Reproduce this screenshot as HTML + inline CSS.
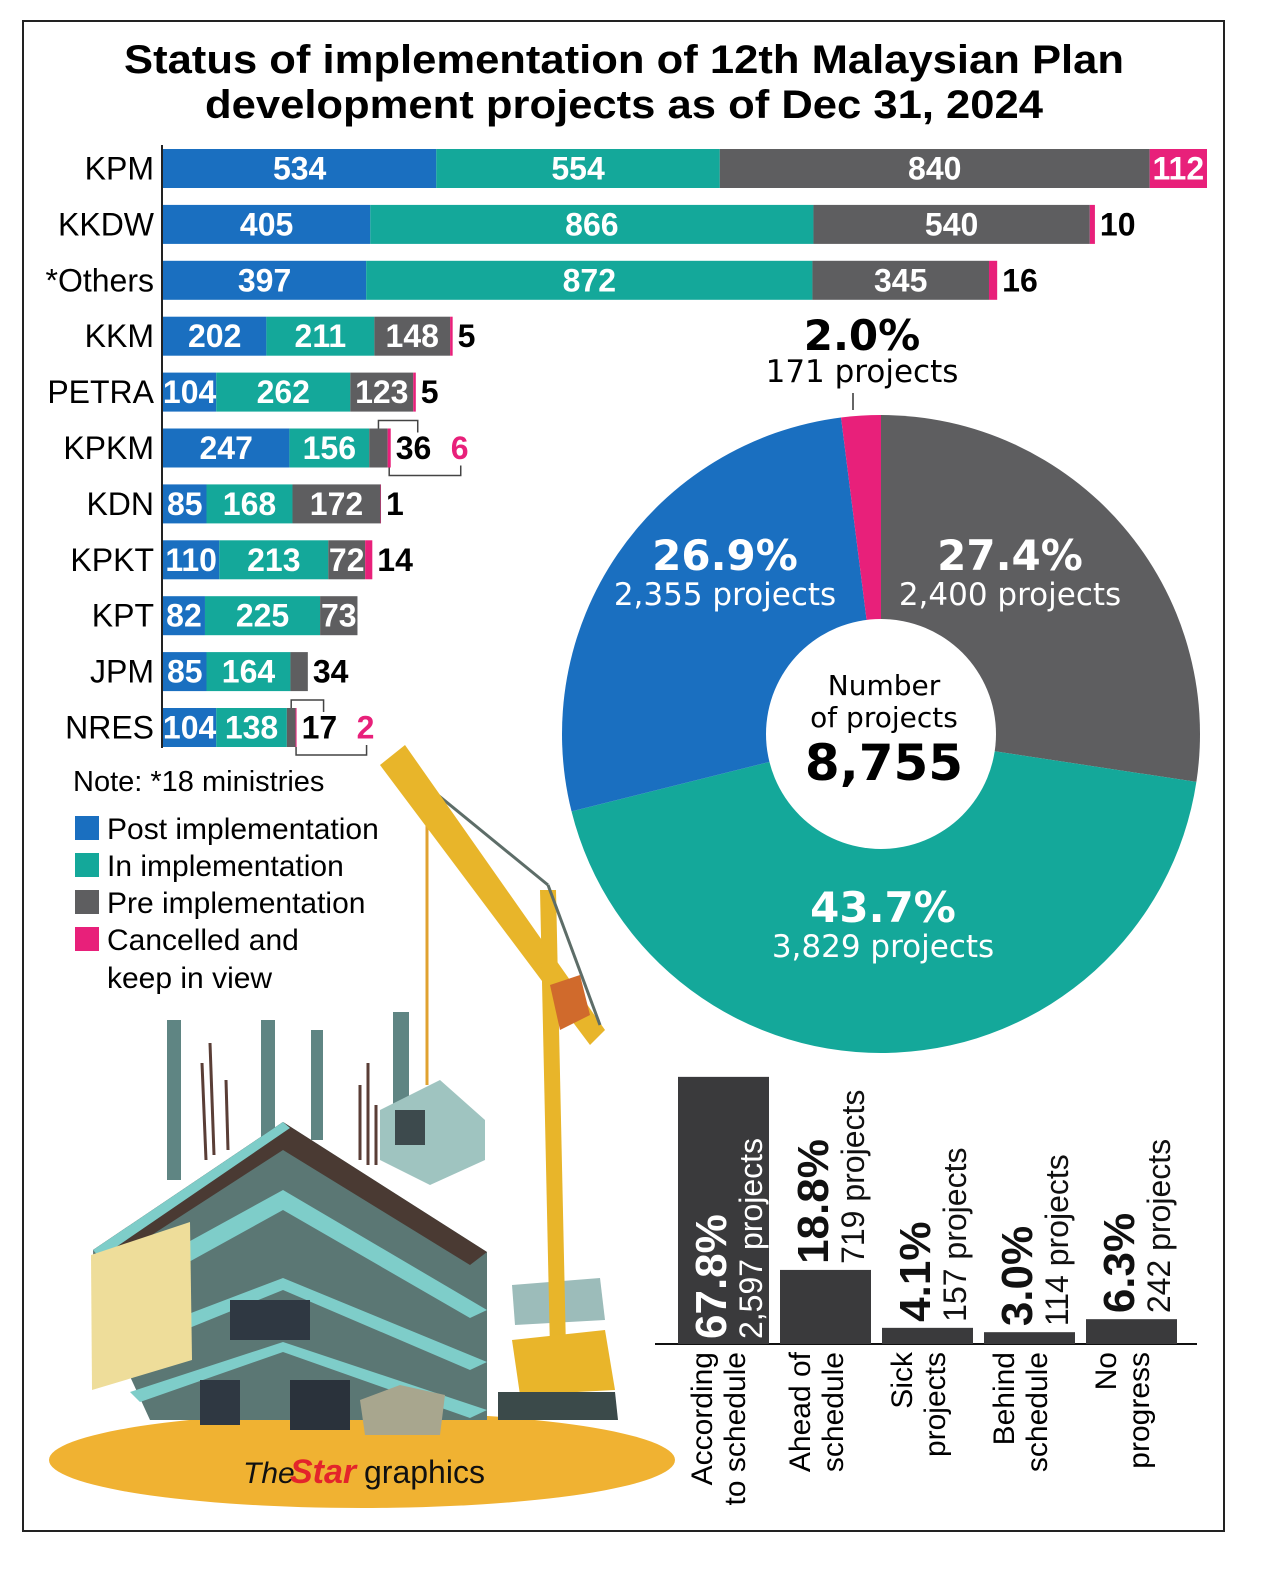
<!DOCTYPE html>
<html><head><meta charset="utf-8"><style>
html,body{margin:0;padding:0;background:#fff}
svg{display:block}
text{font-family:"Liberation Sans",sans-serif}
.pf{font-family:"DejaVu Sans","Liberation Sans",sans-serif}
</style></head><body>
<svg id="chart" width="1261" height="1579" viewBox="0 0 1261 1579" xmlns="http://www.w3.org/2000/svg">
<rect x="23" y="21" width="1201" height="1510" fill="#fff" stroke="#222" stroke-width="2"/>
<text x="624" y="73" text-anchor="middle" font-size="40" font-weight="bold" textLength="1000" lengthAdjust="spacingAndGlyphs">Status of implementation of 12th Malaysian Plan</text>
<text x="624" y="118" text-anchor="middle" font-size="40" font-weight="bold" textLength="838" lengthAdjust="spacingAndGlyphs">development projects as of Dec 31, 2024</text>

<g>
<ellipse cx="362" cy="1460" rx="313" ry="48" fill="#f0b232"/>
<g fill="#5f8583">
<rect x="167" y="1020" width="14" height="160"/><rect x="261" y="1020" width="14" height="120"/><rect x="311" y="1030" width="12" height="110"/><rect x="393" y="1012" width="16" height="110"/>
</g>
<g stroke="#5a3e36" stroke-width="3"><line x1="202" y1="1063" x2="206" y2="1160"/><line x1="210" y1="1043" x2="214" y2="1155"/><line x1="226" y1="1080" x2="228" y2="1150"/><line x1="360" y1="1085" x2="360" y2="1160"/><line x1="368" y1="1063" x2="368" y2="1165"/><line x1="376" y1="1105" x2="376" y2="1165"/></g>
<polygon points="93,1250 283,1122 487,1252 487,1420 150,1420 95,1300" fill="#5b7774"/>
<polygon points="93,1250 283,1122 487,1252 470,1265 283,1150 110,1262" fill="#4a3a33"/>
<polygon points="93,1250 283,1122 290,1128 100,1258" fill="#7ecdc9"/>
<polygon points="110,1285 283,1190 487,1310 470,1318 283,1210 120,1300" fill="#7ecdc9"/>
<polygon points="120,1340 283,1278 487,1362 470,1370 283,1290 130,1352" fill="#7ecdc9"/>
<polygon points="130,1392 283,1342 487,1410 470,1418 283,1352 140,1402" fill="#7ecdc9"/>
<rect x="230" y="1300" width="80" height="40" fill="#2f3842"/><rect x="290" y="1380" width="60" height="50" fill="#2a323b"/><rect x="200" y="1380" width="40" height="45" fill="#2f3842"/>
<polygon points="91,1255 190,1222 192,1360 92,1390" fill="#eedd9a"/>
<polygon points="380,1110 440,1080 485,1120 485,1160 430,1185 380,1160" fill="#9fc4c0"/>
<rect x="395" y="1110" width="30" height="35" fill="#3d4a4d"/>
<polygon points="360,1400 400,1385 445,1395 440,1435 365,1435" fill="#a8a68e"/>
<polygon points="512,1285 600,1278 605,1320 515,1325" fill="#9cbcba"/>
<line x1="395" y1="760" x2="548" y2="885" stroke="#5d6d68" stroke-width="3"/>
<line x1="427" y1="780" x2="427" y2="1085" stroke="#e0a230" stroke-width="3"/>
<polygon points="380,765 405,745 605,1030 590,1045" fill="#e8b52a"/>
<polygon points="540,890 556,890 566,1350 550,1350" fill="#e8b52a"/>
<line x1="548" y1="885" x2="600" y2="1025" stroke="#5d6d68" stroke-width="3"/>
<polygon points="550,985 580,975 590,1015 560,1030" fill="#d06a2c"/>
<polygon points="512,1340 605,1330 615,1390 520,1395" fill="#e9b52a"/>
<polygon points="498,1392 615,1392 618,1420 498,1420" fill="#3b4a4a"/>
</g>
<g>
<text x="243" y="1483" font-size="30" font-style="italic" font-family="Liberation Serif" fill="#111">The</text>
<text x="290" y="1483" font-size="34" font-style="italic" font-weight="bold" fill="#e3242b">Star</text>
<text x="364" y="1483" font-size="32" fill="#111">graphics</text>
</g>

<g id="bars"></g>
<g id="pie"></g>
<g id="sched"></g>

<g>
<text x="73" y="791" font-size="29">Note: *18 ministries</text>
<g><rect x="75" y="816" width="24" height="24" fill="#1a6fc0"/><text x="107" y="839" font-size="30">Post implementation</text></g>
<g><rect x="75" y="853" width="24" height="24" fill="#14a89a"/><text x="107" y="876" font-size="30">In implementation</text></g>
<g><rect x="75" y="890" width="24" height="24" fill="#5e5e60"/><text x="107" y="913" font-size="30">Pre implementation</text></g>
<g><rect x="75" y="927" width="24" height="24" fill="#e8207a"/><text x="107" y="950" font-size="30">Cancelled and</text><text x="107" y="988" font-size="30">keep in view</text></g>
</g>
</svg>
<script>
const NS='http://www.w3.org/2000/svg';
const ministries=['KPM','KKDW','*Others','KKM','PETRA','KPKM','KDN','KPKT','KPT','JPM','NRES'];
const postImpl=[534,405,397,202,104,247,85,110,82,85,104];
const inImpl=[554,866,872,211,262,156,168,213,225,164,138];
const preImpl=[840,540,345,148,123,36,172,72,73,34,17];
const cancelled=[112,10,16,5,5,6,1,14,0,0,2];
const pieLabels=['Pre implementation','In implementation','Post implementation','Cancelled'];
const piePct=[27.4,43.7,26.9,2.0];
const pieCounts=['2,400','3,829','2,355','171'];
const schedCats=[['According','to schedule'],['Ahead of','schedule'],['Sick','projects'],['Behind','schedule'],['No','progress']];
const schedPct=[67.8,18.8,4.1,3.0,6.3];
const schedCounts=['2,597','719','157','114','242'];
const COLORS=['#1a6fc0','#14a89a','#5e5e60','#e8207a'];
function mk(tag,attrs,parent){const e=document.createElementNS(NS,tag);for(const k in attrs)e.setAttribute(k,attrs[k]);parent.appendChild(e);return e;}
const bars=document.getElementById('bars');
const x0=162, sx=1044/2040, rowY=i=>149+i*55.9, bh=39, FIT=30;
const xs=v=>v*sx;
const axis=mk('line',{x1:x0,y1:145,x2:x0,y2:748,stroke:'#222','stroke-width':2},bars);

ministries.forEach((m,i)=>{
  const y=rowY(i);
  const lab=mk('text',{x:154,y:y+bh/2+11,'text-anchor':'end','font-size':32},bars);lab.textContent=m;
  
  const vals=[postImpl[i],inImpl[i],preImpl[i],cancelled[i]];
  let x=x0+1;
  vals.forEach((v,k)=>{
    const w=xs(v);
    if(v>0){
      const r=mk('rect',{x:x,y:y,width:w,height:bh,fill:COLORS[k]},bars);
      
    }
    if(w>=FIT){
      const t=mk('text',{x:x+w/2,y:y+bh/2+11,'text-anchor':'middle','font-size':32,'font-weight':'bold',fill:'#fff'},bars);t.textContent=v;
      
    }
    x+=w;
  });
  const end=x;
  const pre=preImpl[i], can=cancelled[i], preW=xs(pre);
  if(preW<FIT){
    const t=mk('text',{x:end+5,y:y+bh/2+11,'font-size':32,'font-weight':'bold'},bars);t.textContent=pre;
    
    if(can>0){
      const t2=mk('text',{x:end+5+42+13,y:y+bh/2+11,'font-size':32,'font-weight':'bold',fill:'#e8207a'},bars);t2.textContent=can;
      
      const px=end-xs(can)-preW/2, lx=end+5+22;
      const b1=mk('polyline',{points:`${px},${y} ${px},${y-8} ${lx},${y-8} ${lx},${y+4}`,fill:'none',stroke:'#444','stroke-width':1.5},bars);
      
      const cx2=end-xs(can)/2, rx=end+5+42+13+10;
      const b2=mk('polyline',{points:`${cx2},${y+bh} ${cx2},${y+bh+8} ${rx},${y+bh+8} ${rx},${y+bh-2}`,fill:'none',stroke:'#444','stroke-width':1.5},bars);
      
    }
  } else if(can>0 && xs(can)<FIT){
    const t=mk('text',{x:end+5,y:y+bh/2+11,'font-size':32,'font-weight':'bold'},bars);t.textContent=can;
    
  }
});
const pie=document.getElementById('pie');
const cx=881, cy=734, R=319, r0=115;
let a=0;
const total=piePct.reduce((s,v)=>s+v,0);
const pcol=[COLORS[2],COLORS[1],COLORS[0],COLORS[3]];
piePct.forEach((p,i)=>{
  const a1=a, a2=a+p/total*2*Math.PI; a=a2;
  const P=t=>[cx+R*Math.sin(t),cy-R*Math.cos(t)];
  const [x1,y1]=P(a1),[x2,y2]=P(a2);
  const s=mk('path',{d:`M${cx},${cy}L${x1},${y1}A${R},${R} 0 ${a2-a1>Math.PI?1:0} 1 ${x2},${y2}Z`,fill:pcol[i]},pie);
  
});
const hole=mk('circle',{cx:cx,cy:cy,r:r0,fill:'#fff'},pie);

const pl=[[1010,570],[883,922],[725,570]];
pl.forEach(([x,y],i)=>{
  const t=mk('text',{x:x,y:y,'text-anchor':'middle','font-size':42,'font-weight':'bold',fill:'#fff',class:'pf'},pie);t.textContent=piePct[i].toFixed(1)+'%';
  
  const t2=mk('text',{x:x,y:y+35,'text-anchor':'middle','font-size':31,fill:'#fff',class:'pf'},pie);t2.textContent=pieCounts[i]+' projects';
  
});
const t3=mk('text',{x:862,y:350,'text-anchor':'middle','font-size':42,'font-weight':'bold',class:'pf'},pie);t3.textContent=piePct[3].toFixed(1)+'%';

const t4=mk('text',{x:862,y:382,'text-anchor':'middle','font-size':31,class:'pf'},pie);t4.textContent=pieCounts[3]+' projects';

const ll=mk('line',{x1:853,y1:393,x2:853,y2:410,stroke:'#333','stroke-width':1.5},pie);

[['Number',695,28,'normal'],['of projects',727,28,'normal'],['8,755',780,50,'bold']].forEach(([s,y,f,w])=>{
  const t=mk('text',{x:884,y:y,'text-anchor':'middle','font-size':f,'font-weight':w,class:'pf'},pie);t.textContent=s;
  
});
const sc=document.getElementById('sched');
const base=1344, sy=v=>v*3.94, bx=i=>678+i*102, bw=91;
const bl=mk('line',{x1:655,y1:base,x2:1197,y2:base,stroke:'#111','stroke-width':2},sc);

schedPct.forEach((p,i)=>{
  const h=sy(p), x=bx(i);
  const r=mk('rect',{x:x,y:base-h,width:bw,height:h,fill:'#3a3a3c'},sc);
  
  const inside=i===0;
  const ty=inside?base-5:base-h-6;
  const g=mk('g',{transform:`translate(${x+48},${ty}) rotate(-90)`},sc);
  
  const t=mk('text',{x:0,y:0,'font-size':44,'font-weight':'bold',fill:inside?'#fff':'#111'},g);t.textContent=p.toFixed(1)+'%';
  const t2=mk('text',{x:0,y:36,'font-size':32,fill:inside?'#fff':'#111'},g);t2.textContent=schedCounts[i]+' projects';
  const g2=mk('g',{transform:`translate(${x+30},${base+8}) rotate(-90)`},sc);
  
  schedCats[i].forEach((s,k)=>{const tt=mk('text',{x:0,y:k*33+(i===0?4:0),'text-anchor':'end','font-size':30},g2);tt.textContent=s;});
});
</script>
</body></html>
